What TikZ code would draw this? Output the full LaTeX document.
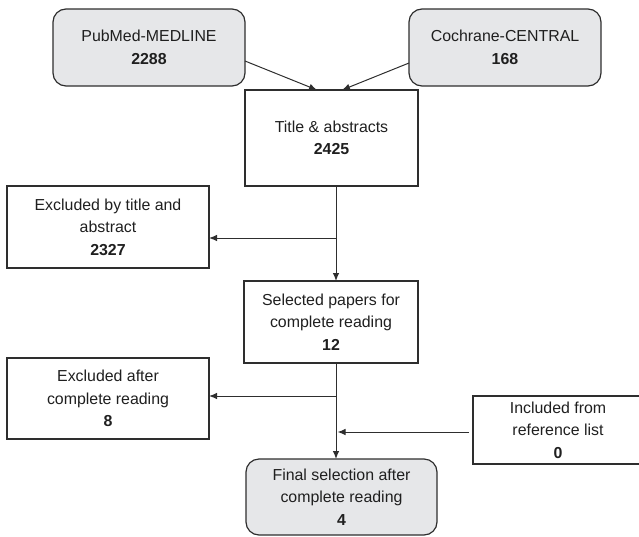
\documentclass[tikz,border=0pt]{standalone}
\usepackage{fontspec}
\setmainfont{Liberation Sans}
\usetikzlibrary{arrows.meta}

\definecolor{boxgray}{HTML}{E6E7E9}
\definecolor{linegray}{HTML}{2E2E2E}

\begin{document}
\begin{tikzpicture}[x=1pt, y=-1pt,
  box/.style={draw=linegray, line width=1.2pt, inner sep=0pt, outer sep=0pt,
    align=center, text=black!88, font=\fontsize{15.9}{22.5}\selectfont},
  source/.style={box, fill=boxgray, rounded corners=13pt},
  arr/.style={draw=linegray, line width=1pt, -{Latex[length=8pt,width=6.5pt]}}]
  % Define the page
  \useasboundingbox (0,0) rectangle (639,536);

  % Databases searched
  \node[source, minimum width=192pt, minimum height=77pt] (pubmed) at (149,47.5)
    {PubMed-MEDLINE\\\textbf{2288}};
  \node[source, minimum width=192pt, minimum height=77pt] (cochrane) at (505,47.5)
    {Cochrane-CENTRAL\\\textbf{168}};

  % Screening steps
  \node[box, minimum width=173pt, minimum height=96pt] (title) at (331.5,138)
    {Title \& abstracts\\\textbf{2425}};
  \node[box, minimum width=202pt, minimum height=82pt] (exclone) at (108,227)
    {Excluded by title and\\abstract\\\textbf{2327}};
  \node[box, minimum width=174pt, minimum height=82pt] (selected) at (331,322)
    {Selected papers for\\complete reading\\\textbf{12}};
  \node[box, minimum width=202pt, minimum height=81pt] (excltwo) at (108,398.5)
    {Excluded after\\complete reading\\\textbf{8}};
  \node[box, minimum width=170pt, minimum height=68pt] (included) at (558,430)
    {Included from\\reference list\\\textbf{0}};
  \node[source, minimum width=191pt, minimum height=76pt] (final) at (341.5,497)
    {Final selection after\\complete reading\\\textbf{4}};

  % Main line and branch points
  \coordinate (spine) at (336,0);
  \coordinate (cutone) at (336,238);
  \coordinate (cuttwo) at (336,396);
  \coordinate (addin) at (336,432);

  % Draw connectors
  \draw[arr] ([yshift=-13.5pt]pubmed.east) -- ([xshift=-14.5pt]title.north);
  \draw[arr] ([yshift=-15.5pt]cochrane.west) -- ([xshift=10.5pt]title.north);
  \draw[arr] (title.south -| spine) -- (selected.north -| spine);
  \draw[arr] (cutone) -- (cutone -| exclone.east);
  \draw[arr] (selected.south -| spine) -- (final.north -| spine);
  \draw[arr] (cuttwo) -- (cuttwo -| excltwo.east);
  \draw[arr, shorten <=4pt, shorten >=1.5pt] (included.west |- addin) -- (addin);

\end{tikzpicture}
\end{document}
